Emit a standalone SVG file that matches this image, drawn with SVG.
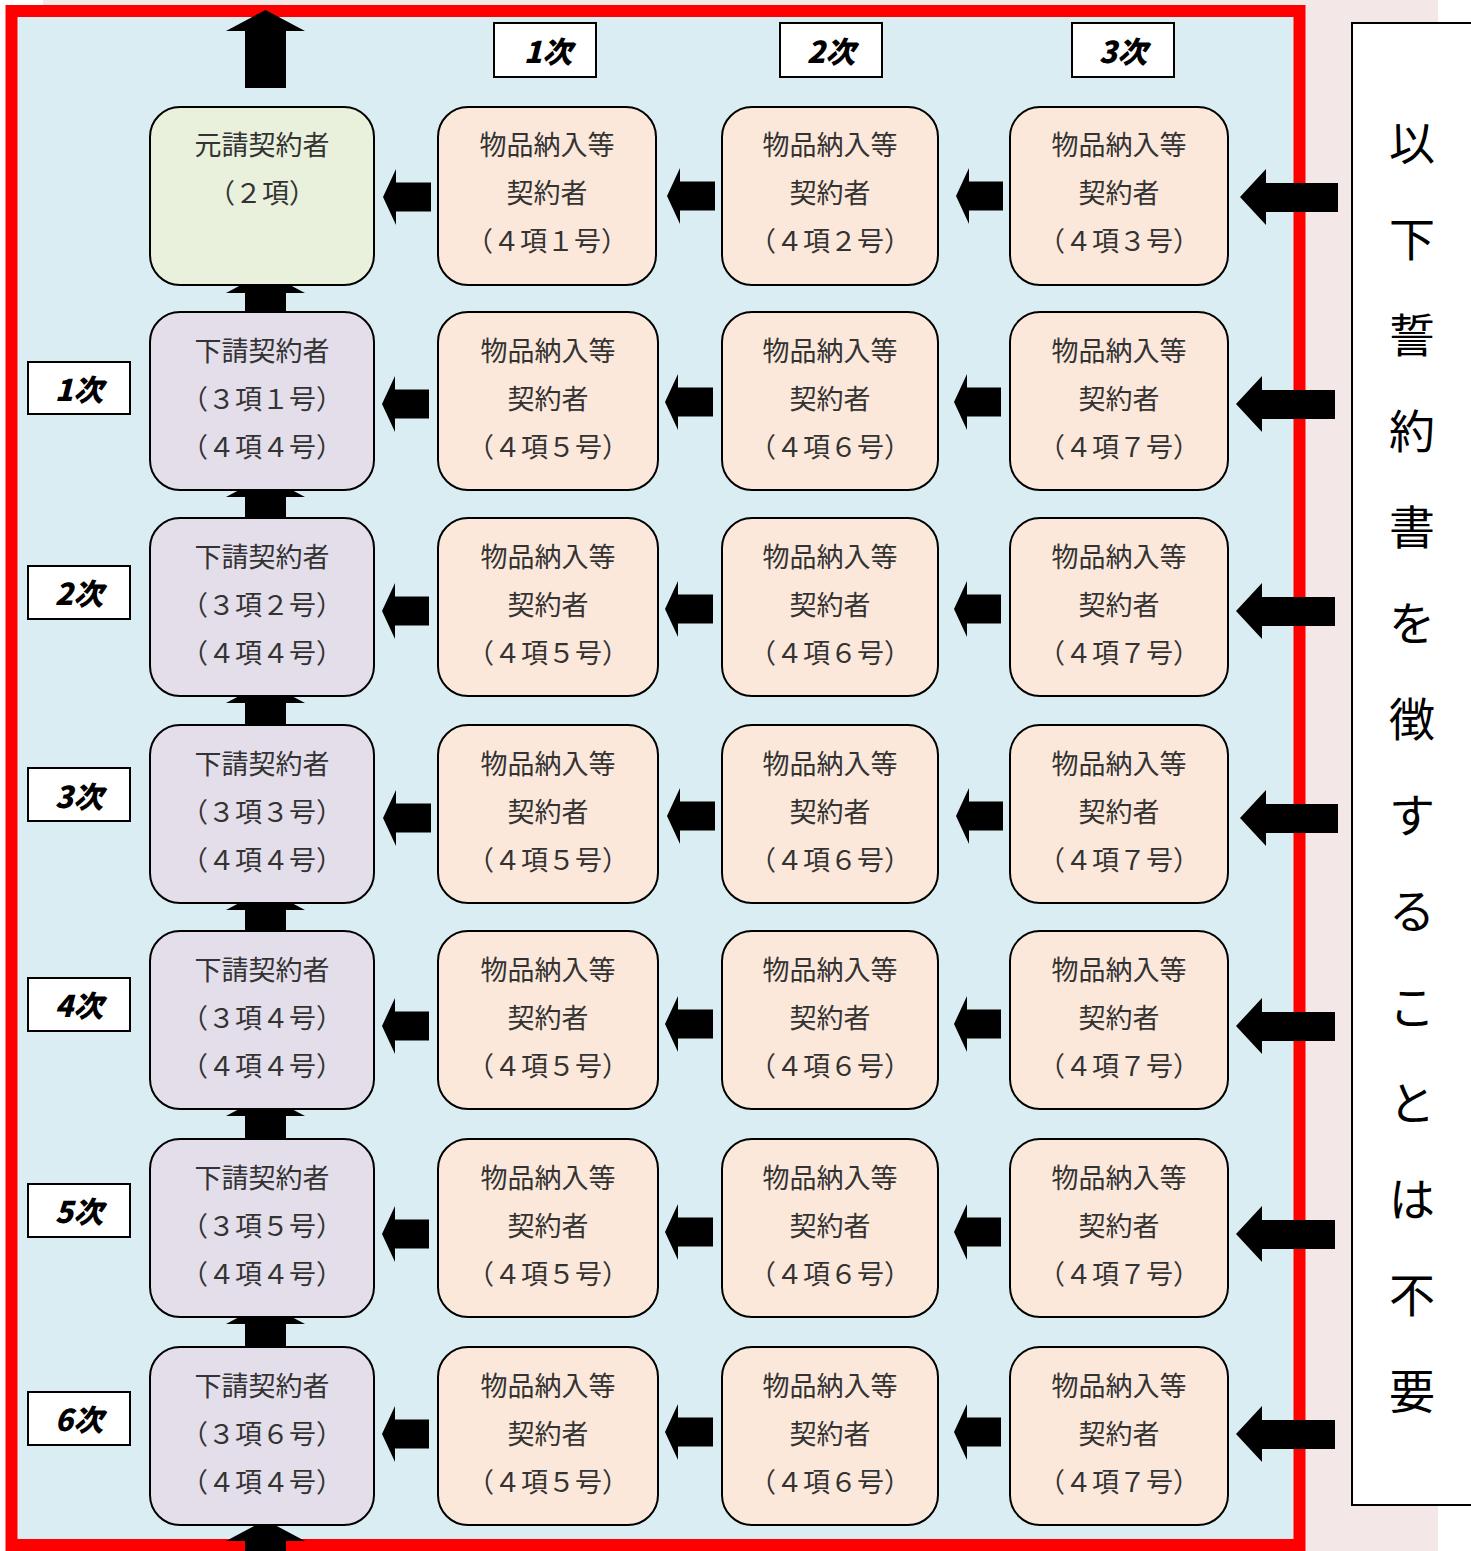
<svg xmlns="http://www.w3.org/2000/svg" width="1471" height="1551" viewBox="0 0 1471 1551">
<style>
.nd{stroke:#000;stroke-width:2}
.gen{fill:#E9F0DC}
.sub{fill:#E3DEEA}
.buy{fill:#FCE8DA}
.t{font-family:"Noto Sans CJK JP","Noto Sans CJK SC",sans-serif;font-size:27px;fill:#333;text-anchor:middle;dominant-baseline:central}
.lb{fill:#fff;stroke:#000;stroke-width:2}
.lt{font-family:"Noto Sans CJK JP","Noto Sans CJK SC",sans-serif;font-size:30px;font-weight:900;font-style:italic;fill:#000;text-anchor:middle;dominant-baseline:central}
.vt{font-family:"Noto Sans CJK JP","Noto Sans CJK SC",sans-serif;font-size:46px;fill:#000;text-anchor:middle;dominant-baseline:central}
.ar{fill:#000}
</style>
<rect x="0" y="0" width="1471" height="1551" fill="#fff"/>
<rect x="43" y="0" width="1395" height="1551" fill="#F3E7E7"/>
<rect x="11.5" y="11" width="1288" height="1534" fill="#DAEDF3" stroke="#FF0000" stroke-width="12"/>
<g id="side-note">
<rect x="1352" y="23" width="130" height="1482" fill="#fff" stroke="#000" stroke-width="2"/>
<text class="vt"><tspan x="1412" y="140">以</tspan><tspan x="1412" y="236">下</tspan><tspan x="1412" y="332">誓</tspan><tspan x="1412" y="428">約</tspan><tspan x="1412" y="524">書</tspan><tspan x="1412" y="620">を</tspan><tspan x="1412" y="716">徴</tspan><tspan x="1412" y="812">す</tspan><tspan x="1412" y="908">る</tspan><tspan x="1412" y="1004">こ</tspan><tspan x="1412" y="1100">と</tspan><tspan x="1412" y="1196">は</tspan><tspan x="1412" y="1292">不</tspan><tspan x="1412" y="1388">要</tspan></text>
</g>
<g id="connectors">
<path class="ar" d="M265.5,10 L305,31 L286,31 L286,88 L245,88 L245,31 L226,31 Z"/>
<path class="ar" d="M265.5,272 L305,293 L286,293 L286,320 L245,320 L245,293 L226,293 Z"/>
<path class="ar" d="M265.5,476 L305,497 L286,497 L286,525 L245,525 L245,497 L226,497 Z"/>
<path class="ar" d="M265.5,682 L305,703 L286,703 L286,732 L245,732 L245,703 L226,703 Z"/>
<path class="ar" d="M265.5,889 L305,910 L286,910 L286,938 L245,938 L245,910 L226,910 Z"/>
<path class="ar" d="M265.5,1095 L305,1116 L286,1116 L286,1146 L245,1146 L245,1116 L226,1116 Z"/>
<path class="ar" d="M265.5,1303 L305,1324 L286,1324 L286,1354 L245,1354 L245,1324 L226,1324 Z"/>
<path class="ar" d="M265.5,1520 L305,1541 L286,1541 L286,1560 L245,1560 L245,1541 L226,1541 Z"/>
<path class="ar" d="M383,197 L396,169 L396,182.5 L431,182.5 L431,211.5 L396,211.5 L396,225 Z"/>
<path class="ar" d="M667,196 L680,168 L680,181.5 L715,181.5 L715,210.5 L680,210.5 L680,224 Z"/>
<path class="ar" d="M956,196 L969,168 L969,181.5 L1003,181.5 L1003,210.5 L969,210.5 L969,224 Z"/>
<path class="ar" d="M1240,197 L1266,169 L1266,183 L1338,183 L1338,212 L1266,212 L1266,225 Z"/>
<path class="ar" d="M382,404 L395,376 L395,389.5 L429,389.5 L429,418.5 L395,418.5 L395,432 Z"/>
<path class="ar" d="M665,402 L678,374 L678,387.5 L713,387.5 L713,416.5 L678,416.5 L678,430 Z"/>
<path class="ar" d="M954,402 L967,374 L967,387.5 L1001,387.5 L1001,416.5 L967,416.5 L967,430 Z"/>
<path class="ar" d="M1236,404 L1262,376 L1262,390 L1335,390 L1335,419 L1262,419 L1262,432 Z"/>
<path class="ar" d="M382,611 L395,583 L395,596.5 L429,596.5 L429,625.5 L395,625.5 L395,639 Z"/>
<path class="ar" d="M665,609 L678,581 L678,594.5 L713,594.5 L713,623.5 L678,623.5 L678,637 Z"/>
<path class="ar" d="M954,609 L967,581 L967,594.5 L1001,594.5 L1001,623.5 L967,623.5 L967,637 Z"/>
<path class="ar" d="M1236,611 L1262,583 L1262,597 L1335,597 L1335,626 L1262,626 L1262,639 Z"/>
<path class="ar" d="M383,818 L396,790 L396,803.5 L431,803.5 L431,832.5 L396,832.5 L396,846 Z"/>
<path class="ar" d="M667,816 L680,788 L680,801.5 L715,801.5 L715,830.5 L680,830.5 L680,844 Z"/>
<path class="ar" d="M956,816 L969,788 L969,801.5 L1003,801.5 L1003,830.5 L969,830.5 L969,844 Z"/>
<path class="ar" d="M1240,818 L1266,790 L1266,804 L1338,804 L1338,833 L1266,833 L1266,846 Z"/>
<path class="ar" d="M382,1026 L395,998 L395,1011.5 L429,1011.5 L429,1040.5 L395,1040.5 L395,1054 Z"/>
<path class="ar" d="M665,1024 L678,996 L678,1009.5 L713,1009.5 L713,1038.5 L678,1038.5 L678,1052 Z"/>
<path class="ar" d="M954,1024 L967,996 L967,1009.5 L1001,1009.5 L1001,1038.5 L967,1038.5 L967,1052 Z"/>
<path class="ar" d="M1236,1026 L1262,998 L1262,1012 L1335,1012 L1335,1041 L1262,1041 L1262,1054 Z"/>
<path class="ar" d="M382,1234 L395,1206 L395,1219.5 L429,1219.5 L429,1248.5 L395,1248.5 L395,1262 Z"/>
<path class="ar" d="M665,1232 L678,1204 L678,1217.5 L713,1217.5 L713,1246.5 L678,1246.5 L678,1260 Z"/>
<path class="ar" d="M954,1232 L967,1204 L967,1217.5 L1001,1217.5 L1001,1246.5 L967,1246.5 L967,1260 Z"/>
<path class="ar" d="M1236,1234 L1262,1206 L1262,1220 L1335,1220 L1335,1249 L1262,1249 L1262,1262 Z"/>
<path class="ar" d="M382,1434 L395,1406 L395,1419.5 L429,1419.5 L429,1448.5 L395,1448.5 L395,1462 Z"/>
<path class="ar" d="M665,1432 L678,1404 L678,1417.5 L713,1417.5 L713,1446.5 L678,1446.5 L678,1460 Z"/>
<path class="ar" d="M954,1432 L967,1404 L967,1417.5 L1001,1417.5 L1001,1446.5 L967,1446.5 L967,1460 Z"/>
<path class="ar" d="M1236,1434 L1262,1406 L1262,1420 L1335,1420 L1335,1449 L1262,1449 L1262,1462 Z"/>
</g>
<g id="headers">
<g id="h-col1"><rect class="lb" x="494" y="23" width="102" height="54"/><text class="lt" x="548" y="50">1次</text></g>
<g id="h-col2"><rect class="lb" x="780" y="23" width="102" height="54"/><text class="lt" x="831" y="50">2次</text></g>
<g id="h-col3"><rect class="lb" x="1072" y="23" width="102" height="54"/><text class="lt" x="1123" y="50">3次</text></g>
<g id="h-row1"><rect class="lb" x="28" y="362" width="102" height="52"/><text class="lt" x="79" y="388">1次</text></g>
<g id="h-row2"><rect class="lb" x="28" y="566" width="102" height="53"/><text class="lt" x="79" y="592">2次</text></g>
<g id="h-row3"><rect class="lb" x="28" y="768" width="102" height="53"/><text class="lt" x="79" y="795">3次</text></g>
<g id="h-row4"><rect class="lb" x="28" y="978" width="102" height="53"/><text class="lt" x="79" y="1004">4次</text></g>
<g id="h-row5"><rect class="lb" x="28" y="1184" width="102" height="53"/><text class="lt" x="79" y="1210">5次</text></g>
<g id="h-row6"><rect class="lb" x="28" y="1392" width="102" height="53"/><text class="lt" x="79" y="1418">6次</text></g>
</g>
<g id="n-r0c0"><rect class="nd gen" x="150" y="107" width="224" height="178" rx="30"/><text class="t" x="262" y="143">元請契約者</text><text class="t" x="262" y="191">（２項）</text></g>
<g id="n-r0c1"><rect class="nd buy" x="438" y="107" width="218" height="178" rx="30"/><text class="t" x="547" y="143">物品納入等</text><text class="t" x="547" y="191">契約者</text><text class="t" x="547" y="239">（４項１号）</text></g>
<g id="n-r0c2"><rect class="nd buy" x="722" y="107" width="216" height="178" rx="30"/><text class="t" x="830" y="143">物品納入等</text><text class="t" x="830" y="191">契約者</text><text class="t" x="830" y="239">（４項２号）</text></g>
<g id="n-r0c3"><rect class="nd buy" x="1010" y="107" width="218" height="178" rx="30"/><text class="t" x="1119" y="143">物品納入等</text><text class="t" x="1119" y="191">契約者</text><text class="t" x="1119" y="239">（４項３号）</text></g>

<g id="n-r1c0"><rect class="nd sub" x="150" y="312" width="224" height="178" rx="30"/><text class="t" x="262" y="349">下請契約者</text><text class="t" x="262" y="397">（３項１号）</text><text class="t" x="262" y="445">（４項４号）</text></g>
<g id="n-r1c1"><rect class="nd buy" x="438" y="312" width="220" height="178" rx="30"/><text class="t" x="548" y="349">物品納入等</text><text class="t" x="548" y="397">契約者</text><text class="t" x="548" y="445">（４項５号）</text></g>
<g id="n-r1c2"><rect class="nd buy" x="722" y="312" width="216" height="178" rx="30"/><text class="t" x="830" y="349">物品納入等</text><text class="t" x="830" y="397">契約者</text><text class="t" x="830" y="445">（４項６号）</text></g>
<g id="n-r1c3"><rect class="nd buy" x="1010" y="312" width="218" height="178" rx="30"/><text class="t" x="1119" y="349">物品納入等</text><text class="t" x="1119" y="397">契約者</text><text class="t" x="1119" y="445">（４項７号）</text></g>

<g id="n-r2c0"><rect class="nd sub" x="150" y="518" width="224" height="178" rx="30"/><text class="t" x="262" y="555">下請契約者</text><text class="t" x="262" y="603">（３項２号）</text><text class="t" x="262" y="651">（４項４号）</text></g>
<g id="n-r2c1"><rect class="nd buy" x="438" y="518" width="220" height="178" rx="30"/><text class="t" x="548" y="555">物品納入等</text><text class="t" x="548" y="603">契約者</text><text class="t" x="548" y="651">（４項５号）</text></g>
<g id="n-r2c2"><rect class="nd buy" x="722" y="518" width="216" height="178" rx="30"/><text class="t" x="830" y="555">物品納入等</text><text class="t" x="830" y="603">契約者</text><text class="t" x="830" y="651">（４項６号）</text></g>
<g id="n-r2c3"><rect class="nd buy" x="1010" y="518" width="218" height="178" rx="30"/><text class="t" x="1119" y="555">物品納入等</text><text class="t" x="1119" y="603">契約者</text><text class="t" x="1119" y="651">（４項７号）</text></g>

<g id="n-r3c0"><rect class="nd sub" x="150" y="725" width="224" height="178" rx="30"/><text class="t" x="262" y="762">下請契約者</text><text class="t" x="262" y="810">（３項３号）</text><text class="t" x="262" y="858">（４項４号）</text></g>
<g id="n-r3c1"><rect class="nd buy" x="438" y="725" width="220" height="178" rx="30"/><text class="t" x="548" y="762">物品納入等</text><text class="t" x="548" y="810">契約者</text><text class="t" x="548" y="858">（４項５号）</text></g>
<g id="n-r3c2"><rect class="nd buy" x="722" y="725" width="216" height="178" rx="30"/><text class="t" x="830" y="762">物品納入等</text><text class="t" x="830" y="810">契約者</text><text class="t" x="830" y="858">（４項６号）</text></g>
<g id="n-r3c3"><rect class="nd buy" x="1010" y="725" width="218" height="178" rx="30"/><text class="t" x="1119" y="762">物品納入等</text><text class="t" x="1119" y="810">契約者</text><text class="t" x="1119" y="858">（４項７号）</text></g>

<g id="n-r4c0"><rect class="nd sub" x="150" y="931" width="224" height="178" rx="30"/><text class="t" x="262" y="968">下請契約者</text><text class="t" x="262" y="1016">（３項４号）</text><text class="t" x="262" y="1064">（４項４号）</text></g>
<g id="n-r4c1"><rect class="nd buy" x="438" y="931" width="220" height="178" rx="30"/><text class="t" x="548" y="968">物品納入等</text><text class="t" x="548" y="1016">契約者</text><text class="t" x="548" y="1064">（４項５号）</text></g>
<g id="n-r4c2"><rect class="nd buy" x="722" y="931" width="216" height="178" rx="30"/><text class="t" x="830" y="968">物品納入等</text><text class="t" x="830" y="1016">契約者</text><text class="t" x="830" y="1064">（４項６号）</text></g>
<g id="n-r4c3"><rect class="nd buy" x="1010" y="931" width="218" height="178" rx="30"/><text class="t" x="1119" y="968">物品納入等</text><text class="t" x="1119" y="1016">契約者</text><text class="t" x="1119" y="1064">（４項７号）</text></g>

<g id="n-r5c0"><rect class="nd sub" x="150" y="1139" width="224" height="178" rx="30"/><text class="t" x="262" y="1176">下請契約者</text><text class="t" x="262" y="1224">（３項５号）</text><text class="t" x="262" y="1272">（４項４号）</text></g>
<g id="n-r5c1"><rect class="nd buy" x="438" y="1139" width="220" height="178" rx="30"/><text class="t" x="548" y="1176">物品納入等</text><text class="t" x="548" y="1224">契約者</text><text class="t" x="548" y="1272">（４項５号）</text></g>
<g id="n-r5c2"><rect class="nd buy" x="722" y="1139" width="216" height="178" rx="30"/><text class="t" x="830" y="1176">物品納入等</text><text class="t" x="830" y="1224">契約者</text><text class="t" x="830" y="1272">（４項６号）</text></g>
<g id="n-r5c3"><rect class="nd buy" x="1010" y="1139" width="218" height="178" rx="30"/><text class="t" x="1119" y="1176">物品納入等</text><text class="t" x="1119" y="1224">契約者</text><text class="t" x="1119" y="1272">（４項７号）</text></g>

<g id="n-r6c0"><rect class="nd sub" x="150" y="1347" width="224" height="178" rx="30"/><text class="t" x="262" y="1384">下請契約者</text><text class="t" x="262" y="1432">（３項６号）</text><text class="t" x="262" y="1480">（４項４号）</text></g>
<g id="n-r6c1"><rect class="nd buy" x="438" y="1347" width="220" height="178" rx="30"/><text class="t" x="548" y="1384">物品納入等</text><text class="t" x="548" y="1432">契約者</text><text class="t" x="548" y="1480">（４項５号）</text></g>
<g id="n-r6c2"><rect class="nd buy" x="722" y="1347" width="216" height="178" rx="30"/><text class="t" x="830" y="1384">物品納入等</text><text class="t" x="830" y="1432">契約者</text><text class="t" x="830" y="1480">（４項６号）</text></g>
<g id="n-r6c3"><rect class="nd buy" x="1010" y="1347" width="218" height="178" rx="30"/><text class="t" x="1119" y="1384">物品納入等</text><text class="t" x="1119" y="1432">契約者</text><text class="t" x="1119" y="1480">（４項７号）</text></g>
</svg>
